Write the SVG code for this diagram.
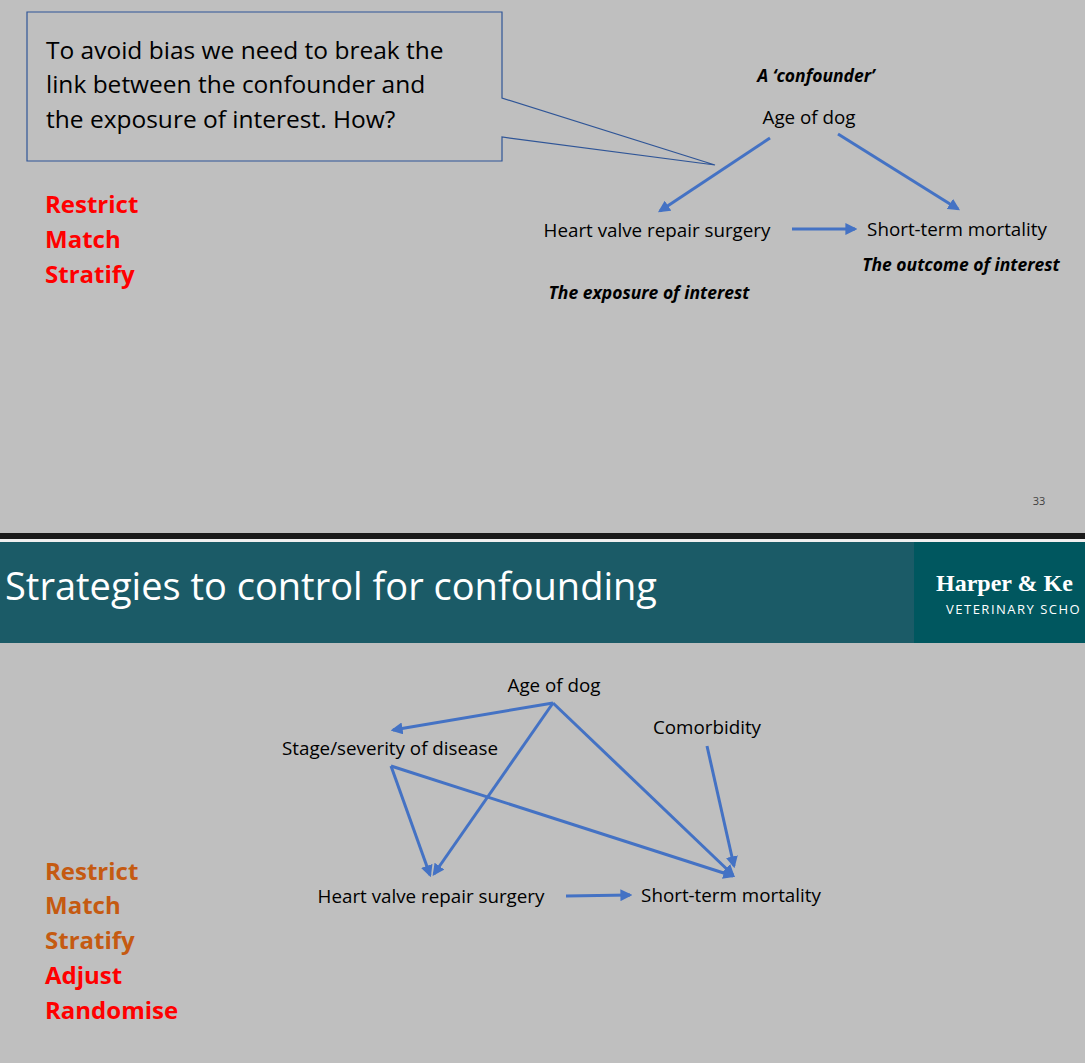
<svg xmlns="http://www.w3.org/2000/svg" width="1085" height="1063" viewBox="0 0 1085 1063">
<style>
text{font-family:"Open Sans","Noto Sans",sans-serif;fill:#000}
.n{font-size:18.8px}
.bi{font-size:17.5px;font-weight:bold;font-style:italic}
.red{font-size:24px;font-weight:bold;fill:#ff0000}
.or{font-size:24px;font-weight:bold;fill:#c55a11}
.e{stroke:#4472c4;stroke-width:3;fill:none;marker-end:url(#a)}
</style>
<defs><marker id="a" viewBox="0 0 10 10" refX="8" refY="5" markerWidth="4" markerHeight="4" orient="auto"><path d="M0,0L10,5L0,10z" fill="#4472c4"/></marker></defs>
<rect width="1085" height="1063" fill="#bfbfbf"/>
<rect x="0" y="533" width="1085" height="6" fill="#1a1a1a"/>
<rect x="0" y="539" width="1085" height="3" fill="#f0f0f0"/>
<rect x="0" y="542" width="1085" height="101" fill="#1b5b67"/>
<rect x="914" y="542" width="171" height="101" fill="#00575f"/>
<g id="callout">
<path d="M27,12H502V98L715,165L502,137V161H27Z" fill="#bfbfbf" stroke="#2f5597" stroke-width="1.2"/>
<text x="46" y="59" style="font-size:24.5px">To avoid bias we need to break the</text>
<text x="46" y="93" style="font-size:24.5px">link between the confounder and</text>
<text x="46" y="128" style="font-size:24.5px">the exposure of interest. How?</text>
</g>
<g id="list1"><text class="red" x="45" y="213">Restrict</text><text class="red" x="45" y="248">Match</text><text class="red" x="45" y="283">Stratify</text></g>
<g id="top-age"><text class="bi" x="816" y="82" text-anchor="middle">A ‘confounder’</text><text class="n" x="809" y="124" text-anchor="middle">Age of dog</text></g>
<g id="top-surgery"><text class="n" x="657" y="237" text-anchor="middle">Heart valve repair surgery</text><text class="bi" x="649" y="299" text-anchor="middle">The exposure of interest</text></g>
<g id="top-mortality"><text class="n" x="957" y="236" text-anchor="middle">Short-term mortality</text><text class="bi" x="961" y="271" text-anchor="middle">The outcome of interest</text></g>
<text x="1039" y="505" text-anchor="middle" style="font-size:11px;fill:#404040">33</text>
<g id="header"><text x="5" y="600" style="font-size:38px;fill:#fff">Strategies to control for confounding</text>
<text x="936" y="591" style="font-family:'Liberation Serif',serif;font-size:24px;font-weight:bold;fill:#fff">Harper &amp; Ke</text>
<text x="946" y="614" style="font-size:13px;letter-spacing:1.5px;fill:#fff">VETERINARY SCHO</text></g>
<g id="list2"><text class="or" x="45" y="880">Restrict</text><text class="or" x="45" y="914">Match</text><text class="or" x="45" y="949">Stratify</text><text class="red" x="45" y="984">Adjust</text><text class="red" x="45" y="1019">Randomise</text></g>
<g id="b-age"><text class="n" x="554" y="692" text-anchor="middle">Age of dog</text></g>
<g id="b-stage"><text class="n" x="390" y="755" text-anchor="middle">Stage/severity of disease</text></g>
<g id="b-comorb"><text class="n" x="707" y="734" text-anchor="middle">Comorbidity</text></g>
<g id="b-surgery"><text class="n" x="431" y="903" text-anchor="middle">Heart valve repair surgery</text></g>
<g id="b-mortality"><text class="n" x="731" y="902" text-anchor="middle">Short-term mortality</text></g>
<g id="connectors">
<line class="e" x1="770" y1="138" x2="660" y2="211"/>
<line class="e" x1="838" y1="134" x2="958" y2="209"/>
<line class="e" x1="792" y1="229" x2="855" y2="229"/>
<line class="e" x1="553" y1="703" x2="393" y2="730"/>
<line class="e" x1="553" y1="703" x2="434" y2="874"/>
<line class="e" x1="553" y1="703" x2="733" y2="875"/>
<line class="e" x1="391" y1="766" x2="430" y2="875"/>
<line class="e" x1="391" y1="766" x2="733" y2="876"/>
<line class="e" x1="707" y1="746" x2="734" y2="866"/>
<line class="e" x1="566" y1="896" x2="630" y2="895"/>
</g>
</svg>
